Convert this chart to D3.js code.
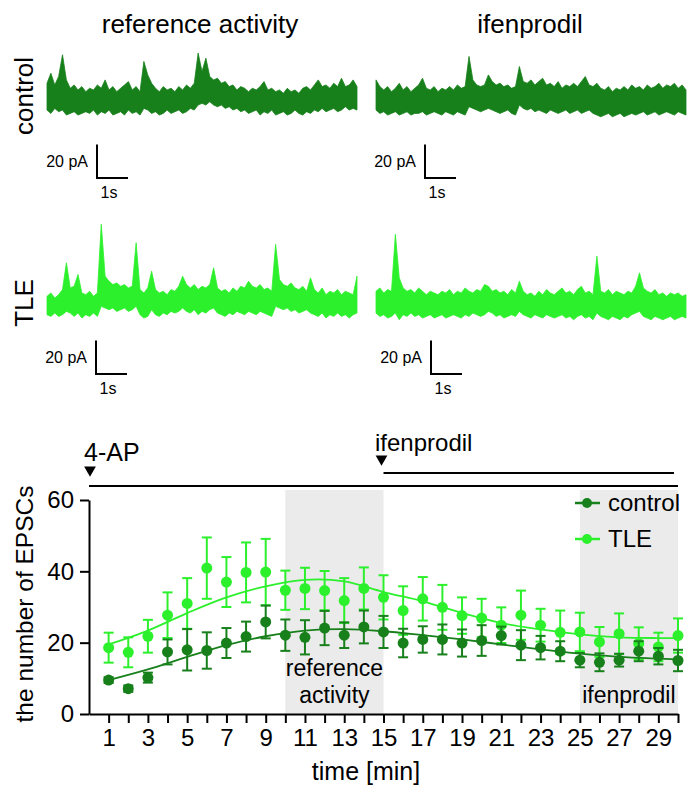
<!DOCTYPE html>
<html>
<head>
<meta charset="utf-8">
<script src="https://cdn.jsdelivr.net/npm/d3@7"></script>
<style>
  body { margin: 0; background: #fff; }
  svg { display: block; font-family: "Liberation Sans", Arial, sans-serif; }
</style>
</head>
<body>
<div id="wrapper"></div>
<script>
// ---- data: example traces (pA relative to baseline, top / bottom envelope over 10 s)
const traceSeconds = 10

const controlRefTop = [10,16,9,14,27,12,7,9,6,8,5,7,6,9,7,12,6,8,5,7,9,11,6,8,5,23,15,10,7,5,8,6,7,5,8,6,9,7,10,28,17,25,14,12,13,10,11,8,9,6,8,7,5,7,6,8,11,6,7,5,6,4,7,5,6,4,7,8,6,9,12,8,9,7,10,8,13,8,9,12,8]
const controlRefBottom = [-6,-8,-5,-7,-6,-9,-8,-7,-9,-8,-7,-8,-6,-9,-7,-8,-6,-9,-8,-7,-9,-6,-8,-7,-9,-5,-6,-8,-7,-9,-8,-6,-8,-7,-6,-8,-7,-5,-6,-3,-2,-3,-1,-3,-4,-3,-5,-4,-6,-5,-7,-6,-8,-7,-6,-9,-7,-8,-6,-9,-8,-7,-9,-8,-6,-8,-9,-7,-8,-6,-7,-5,-7,-6,-5,-7,-6,-4,-6,-5,-6]

const controlIfenTop = [12,8,6,8,5,7,10,6,8,5,7,9,13,7,6,8,5,7,6,8,6,9,7,8,26,12,9,8,9,15,11,9,10,8,9,7,8,20,11,10,12,9,11,13,9,10,8,11,7,9,8,10,8,11,14,9,8,10,7,6,8,5,7,6,8,6,9,7,8,6,9,7,8,10,7,9,8,10,7,9,6]
const controlIfenBottom = [-6,-8,-7,-9,-8,-7,-9,-8,-7,-9,-8,-8,-7,-9,-8,-7,-8,-9,-7,-8,-9,-7,-8,-9,-4,-5,-6,-7,-6,-5,-6,-7,-8,-7,-6,-8,-9,-3,-5,-6,-5,-7,-6,-7,-8,-6,-7,-8,-7,-6,-8,-7,-6,-8,-7,-6,-8,-9,-10,-9,-8,-10,-9,-8,-10,-9,-8,-9,-8,-7,-9,-8,-7,-9,-8,-7,-8,-9,-7,-8,-9]

const tleRefTop = [4,6,3,5,8,24,9,10,17,6,5,7,4,6,47,16,13,11,12,10,11,9,10,36,8,6,9,19,8,6,7,5,8,7,10,16,11,9,11,8,10,9,11,21,9,7,8,6,9,7,10,9,13,10,9,11,8,9,7,35,14,11,10,12,9,8,10,7,15,8,6,9,5,7,6,8,5,7,6,5,16]
const tleRefBottom = [-7,-8,-6,-8,-7,-5,-6,-8,-6,-9,-7,-8,-6,-8,-2,-3,-4,-3,-5,-4,-3,-5,-4,-2,-7,-9,-8,-4,-7,-8,-6,-7,-5,-6,-5,-3,-5,-6,-4,-7,-5,-6,-4,-3,-6,-7,-8,-6,-7,-5,-6,-7,-5,-6,-7,-5,-6,-7,-8,-2,-3,-4,-3,-5,-4,-6,-5,-4,-6,-7,-8,-6,-9,-7,-8,-6,-8,-7,-9,-7,-6]

const tleIfenTop = [7,9,6,8,7,41,15,9,7,8,6,9,7,5,7,6,5,7,6,8,5,7,6,9,7,6,8,7,11,10,7,8,6,7,5,8,6,13,7,5,6,4,7,5,8,6,5,7,9,6,7,5,8,10,6,7,5,28,7,6,8,5,7,6,5,7,6,10,18,9,7,6,8,5,6,4,6,5,6,4,5]
const tleIfenBottom = [-6,-8,-7,-9,-8,-6,-10,-7,-8,-6,-8,-7,-9,-8,-7,-9,-8,-7,-9,-8,-7,-8,-9,-7,-8,-6,-7,-8,-7,-5,-6,-8,-7,-9,-8,-7,-8,-5,-7,-8,-9,-7,-8,-9,-7,-8,-9,-8,-7,-9,-8,-10,-8,-7,-9,-8,-10,-6,-8,-9,-10,-8,-9,-10,-8,-9,-7,-6,-5,-8,-9,-10,-8,-9,-10,-9,-8,-10,-9,-8,-9]

// ---- data: EPSC counts per minute
const minutes = [1,2,3,4,5,6,7,8,9,10,11,12,13,14,15,16,17,18,19,20,21,22,23,24,25,26,27,28,29,30]
const controlMean = [9.5,7.1,10.2,17.4,18.0,17.8,19.9,21.7,25.8,22.1,21.5,24.1,22.1,24.4,23.0,19.9,20.9,20.9,19.9,20.6,22.0,19.3,18.6,17.6,15.1,14.5,15.1,17.6,16.2,15.0]
const controlErr = [0.8,0.9,1.4,3.5,5.8,5.1,4.2,4.2,4.6,4.4,4.8,4.8,3.6,4.6,4.5,4.0,3.7,4.2,3.8,4.3,2.5,4.2,3.3,2.8,2.0,2.5,1.8,2.8,2.3,3.0]
const tleMean = [18.6,17.3,21.8,27.7,31.0,40.9,37.0,39.7,39.8,34.7,35.2,34.6,31.8,35.2,32.7,29.0,32.3,29.9,27.6,26.9,24.9,27.7,24.9,22.9,23.0,20.2,22.5,19.8,18.8,22.0]
const tleErr = [4.2,4.2,4.6,6.4,7.1,8.6,7.0,8.4,9.3,5.5,5.8,5.5,6.3,5.9,6.2,6.8,6.1,6.3,5.1,5.4,5.0,6.9,4.6,6.1,5.4,4.2,5.7,4.5,4.0,4.8]

// fitted curves
const fitMinutes = [1,3,5,7,9,11,13,15,17,19,21,23,25,27,29,30]
const controlFit = [9.5,12.5,16.0,19.3,21.8,23.4,23.8,23.2,22.1,20.9,19.5,18.1,16.9,16.0,15.5,15.3]
const tleFit = [19.5,23.4,28.3,32.7,35.8,37.6,37.2,34.2,31.6,28.3,25.5,23.7,22.3,21.5,21.3,21.3]

const xTicks = [1,3,5,7,9,11,13,15,17,19,21,23,25,27,29]
const yTicks = [0,20,40,60]
const shaded = [[10, 15, "reference", "activity"], [25, 30, "ifenprodil"]]

const controlColor = "#17801b"
const tleColor = "#2cf02c"

// ---- canvas
const width = 691, height = 791
const svg = d3.select("#wrapper").append("svg")
  .attr("width", width)
  .attr("height", height)

// ---- top: example traces
svg.append("text").attr("x", 200).attr("y", 33).attr("text-anchor", "middle")
  .style("font-size", "26px").text("reference activity")
svg.append("text").attr("x", 530).attr("y", 33).attr("text-anchor", "middle")
  .style("font-size", "26px").text("ifenprodil")

svg.append("text").attr("transform", "translate(33,96) rotate(-90)")
  .attr("text-anchor", "middle").style("font-size", "26px").text("control")
svg.append("text").attr("transform", "translate(33,303) rotate(-90)")
  .attr("text-anchor", "middle").style("font-size", "26px").text("TLE")

const px20pA = 33.5   // 20 pA scale bar height
const px1s = 31       // 1 s scale bar width

const traces = [
  { top: controlRefTop, bottom: controlRefBottom, x0: 47, base: 100, color: controlColor, bar: [97, 178] },
  { top: controlIfenTop, bottom: controlIfenBottom, x0: 376, base: 100, color: controlColor, bar: [425, 178] },
  { top: tleRefTop, bottom: tleRefBottom, x0: 47, base: 303, color: tleColor, bar: [96, 374] },
  { top: tleIfenTop, bottom: tleIfenBottom, x0: 376, base: 303, color: tleColor, bar: [431, 374] }
]

traces.forEach(tr => {
  const tScale = d3.scaleLinear().domain([0, traceSeconds]).range([tr.x0, tr.x0 + px1s * traceSeconds])
  const iScale = d3.scaleLinear().domain([0, 20]).range([tr.base, tr.base - px20pA])

  const toPts = arr => arr.map((v, i) => [tScale(i * traceSeconds / (arr.length - 1)), iScale(v)])
  const pts = toPts(tr.top).concat(toPts(tr.bottom).reverse())

  svg.append("path")
    .attr("d", d3.line()(pts) + "Z")
    .attr("fill", tr.color)
    .attr("stroke", tr.color)
    .attr("stroke-width", 0.8)
    .attr("stroke-linejoin", "round")

  // scale bar: 20 pA / 1 s
  const [bx, by] = tr.bar
  const barScaleY = d3.scaleLinear().domain([0, 20]).range([by, by - px20pA])
  const barScaleX = d3.scaleLinear().domain([0, 1]).range([bx, bx + px1s])
  svg.append("path")
    .attr("d", d3.line()([[bx, barScaleY(20)], [bx, barScaleY(0)], [barScaleX(1), barScaleY(0)]]))
    .attr("fill", "none").attr("stroke", "#000").attr("stroke-width", 2)
  svg.append("text").attr("x", bx - 9).attr("y", by - 11)
    .attr("text-anchor", "end").style("font-size", "16px").text("20 pA")
  svg.append("text").attr("x", bx + 12).attr("y", by + 20)
    .attr("text-anchor", "middle").style("font-size", "16px").text("1s")
})

// ---- bottom: time course
const xScale = d3.scaleLinear().domain([0, 30]).range([89, 678])
const yScale = d3.scaleLinear().domain([0, 60]).range([714, 500])

shaded.forEach(s => {
  svg.append("rect")
    .attr("x", xScale(s[0])).attr("y", 490)
    .attr("width", xScale(s[1]) - xScale(s[0]))
    .attr("height", yScale(0) - 490)
    .attr("fill", "#ebebeb")
  const cx = (xScale(s[0]) + xScale(s[1])) / 2
  if (s.length === 4) {
    svg.append("text").attr("x", cx).attr("y", 676).attr("text-anchor", "middle")
      .style("font-size", "23px").text(s[2])
    svg.append("text").attr("x", cx).attr("y", 703).attr("text-anchor", "middle")
      .style("font-size", "23px").text(s[3])
  } else {
    svg.append("text").attr("x", cx).attr("y", 703).attr("text-anchor", "middle")
      .style("font-size", "23px").text(s[2])
  }
})

// application bars
const tri = d3.symbol(d3.symbolTriangle, 60)
svg.append("path").attr("d", tri()).attr("transform", `translate(${xScale(0) + 1},470) rotate(180)`)
svg.append("path").attr("d", tri()).attr("transform", `translate(${xScale(15) - 2},459) rotate(180)`)
svg.append("line").attr("x1", xScale(0)).attr("x2", xScale(30)).attr("y1", 486).attr("y2", 486)
  .attr("stroke", "#000").attr("stroke-width", 2)
svg.append("line").attr("x1", xScale(15)).attr("x2", xScale(30) - 4).attr("y1", 473).attr("y2", 473)
  .attr("stroke", "#000").attr("stroke-width", 2)
svg.append("text").attr("x", 84).attr("y", 461).style("font-size", "25px").text("4-AP")
svg.append("text").attr("x", 375).attr("y", 451).style("font-size", "24px").text("ifenprodil")

// axes
const yAxis = svg.append("g")
  .attr("transform", `translate(${xScale(0)},0)`)
  .call(d3.axisLeft(yScale).tickValues(yTicks).tickSize(9).tickPadding(6).tickSizeOuter(0))
const xAxis = svg.append("g")
  .attr("transform", `translate(0,${yScale(0)})`)
  .call(d3.axisBottom(xScale).tickValues(minutes).tickSize(9).tickPadding(6).tickSizeOuter(0)
    .tickFormat(d => xTicks.includes(d) ? d : ""))
;[yAxis, xAxis].forEach(ax => {
  ax.selectAll("path, line").attr("stroke", "#000").attr("stroke-width", 2)
  ax.selectAll("text").attr("fill", "#000").style("font-size", "24px")
    .style("font-family", "'Liberation Sans', Arial, sans-serif")
})

svg.append("text").attr("transform", "translate(33,604) rotate(-90)")
  .attr("text-anchor", "middle").style("font-size", "24.5px").text("the number of EPSCs")
svg.append("text").attr("x", 366).attr("y", 780)
  .attr("text-anchor", "middle").style("font-size", "25px").text("time [min]")

// fitted curves
const fitLine = vals => d3.line()
  .x((d, i) => xScale(fitMinutes[i]))
  .y(d => yScale(d))
  .curve(d3.curveCatmullRom)(vals)

const series = [
  { mean: tleMean, err: tleErr, fit: tleFit, color: tleColor },
  { mean: controlMean, err: controlErr, fit: controlFit, color: controlColor }
]

series.forEach(s => {
  svg.append("path").attr("d", fitLine(s.fit))
    .attr("fill", "none").attr("stroke", s.color).attr("stroke-width", 1.8)

  const g = svg.append("g")
  const pts = g.selectAll("g").data(minutes).join("g")
  pts.append("line")
    .attr("x1", d => xScale(d)).attr("x2", d => xScale(d))
    .attr("y1", (d, i) => yScale(s.mean[i] + s.err[i]))
    .attr("y2", (d, i) => yScale(s.mean[i] - s.err[i]))
    .attr("stroke", s.color).attr("stroke-width", 2)
  ;[1, -1].forEach(sign => {
    pts.append("line")
      .attr("x1", d => xScale(d) - 5).attr("x2", d => xScale(d) + 5)
      .attr("y1", (d, i) => yScale(s.mean[i] + sign * s.err[i]))
      .attr("y2", (d, i) => yScale(s.mean[i] + sign * s.err[i]))
      .attr("stroke", s.color).attr("stroke-width", 2)
  })
  pts.append("circle")
    .attr("cx", d => xScale(d))
    .attr("cy", (d, i) => yScale(s.mean[i]))
    .attr("r", 5.5)
    .attr("fill", s.color)
})

// legend
const legend = [["control", controlColor, 503], ["TLE", tleColor, 539]]
legend.forEach(([label, color, y]) => {
  svg.append("line").attr("x1", 575).attr("x2", 600).attr("y1", y).attr("y2", y)
    .attr("stroke", color).attr("stroke-width", 2.5)
  svg.append("circle").attr("cx", 587).attr("cy", y).attr("r", 5).attr("fill", color)
  svg.append("text").attr("x", 608).attr("y", y + 8).style("font-size", "24px").text(label)
})
</script>
</body>
</html>
